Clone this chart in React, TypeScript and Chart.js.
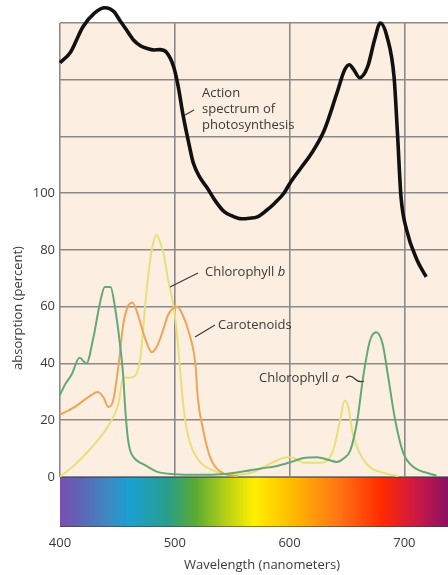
import React, { useEffect, useRef } from "react";
import { Chart, registerables } from "chart.js";

Chart.register(...registerables);

// Action spectrum of photosynthesis (black)
const actionNm = [400, 409, 420, 430, 439, 447, 452, 458, 464, 470, 476, 482, 487, 493, 499, 503, 507, 512, 516, 522, 528, 535, 543, 550, 558, 565, 572, 580, 587, 595, 601, 610, 619, 630, 641, 648, 652, 656, 661, 668, 674, 679, 685, 691, 694, 697, 702, 711, 719];
const actionVals = [146, 149.6, 158.7, 163.5, 165.4, 164, 161, 157.5, 154, 152, 151, 150.5, 150.6, 149.6, 144.6, 137.6, 128, 118, 110.8, 105.5, 102, 97.5, 93.5, 92, 91, 91.2, 91.7, 94, 96.5, 100, 104, 109, 114, 122, 135, 143.5, 145.3, 143.5, 140.7, 144.6, 154, 160, 155, 141, 121, 99, 87, 76.5, 70.5];

// Chlorophyll a (green)
const chlANm = [400, 405, 410, 417, 423, 429, 435, 439, 444, 448, 452, 455, 457, 459, 461, 464, 468, 474, 485, 500, 520, 540, 560, 575, 590, 603, 612, 624, 634, 641, 647, 653, 659, 664, 670, 675.5, 681, 686, 692, 699, 708, 720, 728];
const chlAVals = [29, 33, 36, 42, 40, 49, 61.7, 67, 67, 59.6, 47.6, 36, 23, 14, 9.5, 7, 5.5, 4.2, 1.8, 1, 0.8, 1, 2, 3, 4, 5.5, 6.7, 7, 6, 5.3, 6.5, 9.5, 20, 35, 48, 51, 47, 35, 20, 8.5, 3.5, 1.4, 0.5];

// Chlorophyll b (yellow)
const chlBNm = [400, 412, 424, 433, 442, 451, 455, 460, 465, 470, 474, 478, 481, 484, 487, 490, 494, 499, 502, 505, 508, 513, 522, 537, 551, 570, 586, 598, 605, 612, 627, 638, 644, 648, 651, 655, 661, 670, 682, 695];
const chlBVals = [0, 4, 8.8, 13, 18, 26, 35, 35, 35.5, 42, 59.6, 74.8, 82, 85.4, 83, 79, 70, 60, 50, 36, 23, 12.3, 5.3, 1.8, 0.7, 2, 5.3, 7, 6.5, 5, 5, 9.5, 20, 27, 25, 15.5, 8.5, 3.5, 1.4, 0.3];

// Carotenoids (orange)
const carNm = [400, 413, 424, 433, 438, 442, 446, 451, 455, 459, 463, 468, 474, 480, 485, 490, 494, 502, 507, 513, 518, 520, 525, 531, 542, 555];
const carVals = [22, 24.7, 28, 30, 28, 24.7, 26.5, 39.5, 53.6, 60, 61.4, 57, 49, 44, 46.5, 52, 57, 60, 57, 50, 39.5, 28, 16, 6.7, 1.4, 0.3];

const xTickValues = [400, 500, 600, 700];
const yTickValues = [0, 20, 40, 60, 80, 100, 120, 140, 160];
const yLabelMax = 100;

const xTitle = "Wavelength (nanometers)";
const yTitle = "absorption (percent)";
const actionLabel = ["Action", "spectrum of", "photosynthesis"];
const chlBLabel = "Chlorophyll";
const carLabel = "Carotenoids";
const chlALabel = "Chlorophyll";

const FONT = "'Open Sans', sans-serif";
const TEXT = "#3a3a3a";

const toPts = (xs: number[], ys: number[]) => xs.map((x, i) => ({ x, y: ys[i] }));

const decorPlugin = {
  id: "decor",
  beforeDraw(chart: any) {
    const { ctx, chartArea } = chart;
    ctx.save();
    ctx.fillStyle = "#fcefe1";
    ctx.fillRect(chartArea.left, chartArea.top, chartArea.right - chartArea.left, chartArea.bottom - chartArea.top);
    ctx.restore();
  },
  afterDatasetsDraw(chart: any) {
    const { ctx, chartArea } = chart;
    const l = chartArea.left, r = chartArea.right, b = chartArea.bottom;
    ctx.save();
    const g = ctx.createLinearGradient(l, 0, r, 0);
    g.addColorStop(0, "#7a4fb2");
    g.addColorStop(0.05, "#5f63b4");
    g.addColorStop(0.13, "#3a8cc6");
    g.addColorStop(0.18, "#1aa0d2");
    g.addColorStop(0.28, "#2a9e88");
    g.addColorStop(0.35, "#5aab32");
    g.addColorStop(0.43, "#b9d214");
    g.addColorStop(0.5, "#fff000");
    g.addColorStop(0.6, "#ffba00");
    g.addColorStop(0.72, "#ff7414");
    g.addColorStop(0.83, "#ff2a00");
    g.addColorStop(0.91, "#d21a40");
    g.addColorStop(1, "#8a1062");
    ctx.fillStyle = g;
    ctx.fillRect(l, b, r - l, 50);
    ctx.strokeStyle = "rgba(60,60,60,0.6)";
    ctx.lineWidth = 1;
    ctx.beginPath();
    ctx.moveTo(l, b + 0.5);
    ctx.lineTo(r, b + 0.5);
    ctx.moveTo(l, b + 49.5);
    ctx.lineTo(r, b + 49.5);
    ctx.stroke();
    ctx.restore();
  },
  afterDraw(chart: any) {
    const { ctx } = chart;
    ctx.save();
    ctx.fillStyle = TEXT;
    ctx.strokeStyle = "#3a3a3a";
    ctx.font = `13px ${FONT}`;
    ctx.textBaseline = "middle";
    ctx.textAlign = "left";
    actionLabel.forEach((t, i) => ctx.fillText(t, 202, 93 + i * 16));
    ctx.fillText(chlBLabel, 205, 272);
    const wB = ctx.measureText(chlBLabel + " ").width;
    ctx.font = `italic 13px ${FONT}`;
    ctx.fillText("b", 205 + wB, 272);
    ctx.font = `13px ${FONT}`;
    ctx.fillText(carLabel, 218, 325);
    ctx.fillText(chlALabel, 259, 378);
    const wA = ctx.measureText(chlALabel + " ").width;
    ctx.font = `italic 13px ${FONT}`;
    ctx.fillText("a", 259 + wA, 378);
    ctx.lineWidth = 1.2;
    ctx.beginPath();
    ctx.moveTo(185, 115);
    ctx.lineTo(194, 110);
    ctx.moveTo(170, 287);
    ctx.lineTo(198, 273);
    ctx.moveTo(195, 337);
    ctx.lineTo(215, 325);
    ctx.moveTo(346, 378);
    ctx.quadraticCurveTo(350, 374, 355, 379);
    ctx.quadraticCurveTo(359, 383, 364, 381);
    ctx.stroke();
    ctx.font = `13px ${FONT}`;
    ctx.textAlign = "center";
    ctx.fillText(xTitle, 262, 565);
    ctx.translate(18, 308);
    ctx.rotate(-Math.PI / 2);
    ctx.fillText(yTitle, 0, 0);
    ctx.restore();
  },
};

export default function App() {
  const ref = useRef<HTMLCanvasElement | null>(null);
  useEffect(() => {
    if (!ref.current) return;
    const gridColor = "#8a8a8a";
    const chart = new Chart(ref.current, {
      type: "line",
      data: {
        datasets: [
          { data: toPts(chlBNm, chlBVals), borderColor: "#e6e07a", borderWidth: 2, pointRadius: 0, cubicInterpolationMode: "monotone", order: 4 },
          { data: toPts(carNm, carVals), borderColor: "#f0a458", borderWidth: 2, pointRadius: 0, cubicInterpolationMode: "monotone", order: 3 },
          { data: toPts(chlANm, chlAVals), borderColor: "#62a878", borderWidth: 2, pointRadius: 0, cubicInterpolationMode: "monotone", order: 2 },
          { data: toPts(actionNm, actionVals), borderColor: "#111111", borderWidth: 3.6, pointRadius: 0, cubicInterpolationMode: "monotone", clip: false, order: 1 },
        ] as any,
      },
      options: {
        responsive: false,
        animation: false,
        events: [],
        layout: { padding: { top: 23, left: 0, right: 0, bottom: 0 } },
        plugins: { legend: { display: false }, tooltip: { enabled: false } },
        scales: {
          x: {
            type: "linear",
            min: 400,
            max: 738,
            afterFit: (s: any) => { s.height = 98; s.paddingLeft = 0; s.paddingRight = 0; },
            afterBuildTicks: (s: any) => { s.ticks = xTickValues.map((v) => ({ value: v })); },
            ticks: { padding: 0, color: TEXT, font: { size: 13, family: FONT }, maxRotation: 0 },
            grid: { color: gridColor, lineWidth: 1.6, drawTicks: true, tickLength: 58, tickColor: "rgba(0,0,0,0)" },
            border: { display: false },
          },
          y: {
            type: "linear",
            min: 0,
            max: 160,
            afterFit: (s: any) => { s.width = 60; },
            afterBuildTicks: (s: any) => { s.ticks = yTickValues.map((v) => ({ value: v })); },
            ticks: { padding: 5, color: TEXT, font: { size: 13, family: FONT }, callback: (v: any) => (v <= yLabelMax ? String(v) : "") },
            grid: { color: gridColor, lineWidth: 1.6, drawTicks: false },
            border: { display: false },
          },
        },
      } as any,
      plugins: [decorPlugin],
    });
    return () => chart.destroy();
  }, []);
  return (
    <div style={{ position: "absolute", left: 0, top: 0, width: 448, height: 575, background: "#fff" }}>
      <canvas ref={ref} width={448} height={575} style={{ display: "block", width: 448, height: 575 }} />
    </div>
  );
}
